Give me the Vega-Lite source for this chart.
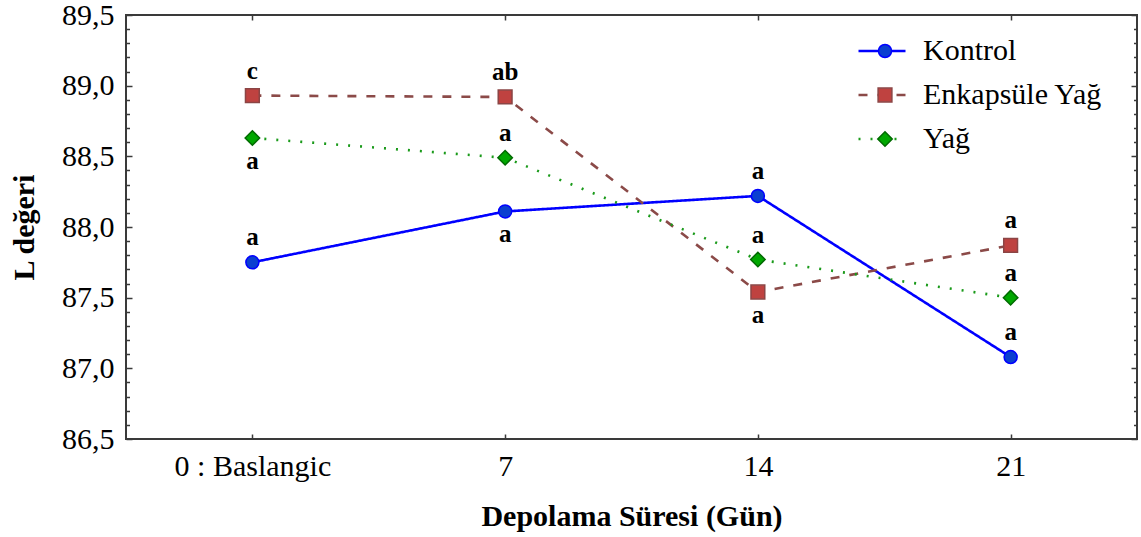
{
  "$schema": "https://vega.github.io/schema/vega-lite/v6.json",
  "width": 1011,
  "height": 424,
  "autosize": {"type": "none"},
  "padding": {"left": 126, "top": 15, "right": 4, "bottom": 98},
  "background": "white",
  "config": {
    "font": "Liberation Serif",
    "view": {"stroke": "#3a3a3a", "strokeWidth": 2},
    "axis": {
      "grid": false,
      "domain": false,
      "tickColor": "#3a3a3a",
      "tickWidth": 1.5,
      "labelFont": "Liberation Serif",
      "labelFontSize": 30,
      "labelColor": "#000000",
      "titleFont": "Liberation Serif",
      "titleFontSize": 30,
      "titleFontWeight": "bold",
      "titleColor": "#000000"
    }
  },
  "data": {
    "values": [
      {"gun": "0 : Baslangic", "grup": "Kontrol", "sira": 1, "L": 87.75, "harf": "a", "yer": "üst"},
      {"gun": "7", "grup": "Kontrol", "sira": 1, "L": 88.11, "harf": "a", "yer": "alt"},
      {"gun": "14", "grup": "Kontrol", "sira": 1, "L": 88.22, "harf": "a", "yer": "üst"},
      {"gun": "21", "grup": "Kontrol", "sira": 1, "L": 87.08, "harf": "a", "yer": "üst"},
      {"gun": "0 : Baslangic", "grup": "Enkapsüle Yağ", "sira": 2, "L": 88.93, "harf": "c", "yer": "üst"},
      {"gun": "7", "grup": "Enkapsüle Yağ", "sira": 2, "L": 88.92, "harf": "ab", "yer": "üst"},
      {"gun": "14", "grup": "Enkapsüle Yağ", "sira": 2, "L": 87.54, "harf": "a", "yer": "alt"},
      {"gun": "21", "grup": "Enkapsüle Yağ", "sira": 2, "L": 87.87, "harf": "a", "yer": "üst"},
      {"gun": "0 : Baslangic", "grup": "Yağ", "sira": 3, "L": 88.63, "harf": "a", "yer": "alt"},
      {"gun": "7", "grup": "Yağ", "sira": 3, "L": 88.49, "harf": "a", "yer": "üst"},
      {"gun": "14", "grup": "Yağ", "sira": 3, "L": 87.77, "harf": "a", "yer": "üst"},
      {"gun": "21", "grup": "Yağ", "sira": 3, "L": 87.50, "harf": "a", "yer": "üst"}
    ]
  },
  "layer": [
    {
      "encoding": {
        "x": {
          "field": "gun",
          "type": "ordinal",
          "sort": ["0 : Baslangic", "7", "14", "21"],
          "scale": {"type": "point", "padding": 0.5},
          "axis": {
            "orient": "bottom",
            "title": "Depolama Süresi (Gün)",
            "labelAngle": 0,
            "tickSize": -5,
            "labelPadding": 17,
            "titlePadding": 20
          }
        },
        "y": {
          "field": "L",
          "type": "quantitative",
          "scale": {"domain": [86.5, 89.5], "zero": false, "nice": false},
          "axis": {
            "orient": "left",
            "title": "L değeri",
            "values": [86.5, 86.6, 86.7, 86.8, 86.9, 87.0, 87.1, 87.2, 87.3, 87.4, 87.5, 87.6, 87.7, 87.8, 87.9, 88.0, 88.1, 88.2, 88.3, 88.4, 88.5, 88.6, 88.7, 88.8, 88.9, 89.0, 89.1, 89.2, 89.3, 89.4, 89.5],
            "labelExpr": "abs(datum.value * 2 - round(datum.value * 2)) < 0.01 ? replace(format(datum.value, '.1f'), '.', ',') : ''",
            "labelOverlap": false,
            "labelFlush": false,
            "tickSize": {"condition": {"test": "abs(datum.value * 2 - round(datum.value * 2)) < 0.01", "value": -6}, "value": -3.5},
            "labelPadding": 18,
            "titlePadding": 22
          }
        }
      },
      "layer": [
        {
          "mark": {"type": "line", "strokeWidth": 2.6},
          "encoding": {
            "color": {
              "field": "grup",
              "type": "nominal",
              "scale": {"domain": ["Kontrol", "Enkapsüle Yağ", "Yağ"], "range": ["#0000ff", "#8b4a48", "#1a9a1a"]},
              "legend": {
                "orient": "none",
                "legendX": 731,
                "legendY": 20,
                "title": null,
                "symbolType": "stroke",
                "symbolSize": 2209,
                "symbolStrokeWidth": 2.4,
                "labelFont": "Liberation Serif",
                "labelFontSize": 30,
                "labelColor": "#000000",
                "labelLimit": 400,
                "labelOffset": 16,
                "clipHeight": 32,
                "rowPadding": 12,
                "padding": 0
              }
            },
            "strokeDash": {
              "field": "grup",
              "type": "nominal",
              "scale": {"domain": ["Kontrol", "Enkapsüle Yağ", "Yağ"], "range": [[1, 0], [9, 10], [2, 10]]}
            }
          }
        },
        {
          "mark": {"type": "point", "filled": true, "opacity": 1, "strokeWidth": 1.5},
          "encoding": {
            "shape": {
              "field": "grup",
              "type": "nominal",
              "sort": {"field": "sira", "op": "min"},
              "scale": {"range": ["circle", "square", "diamond"]},
              "legend": {
                "orient": "none",
                "legendX": 744,
                "legendY": 20,
                "title": null,
                "labelFont": "Liberation Serif",
                "labelFontSize": 30,
                "labelExpr": "''",
                "labelOffset": 16,
                "clipHeight": 32,
                "rowPadding": 12,
                "padding": 0
              }
            },
            "fill": {
              "field": "grup",
              "type": "nominal",
              "sort": {"field": "sira", "op": "min"},
              "scale": {"range": ["#0b3fd0", "#bf4240", "#00a800"]}
            },
            "stroke": {
              "field": "grup",
              "type": "nominal",
              "sort": {"field": "sira", "op": "min"},
              "scale": {"range": ["#0000ff", "#8b4545", "#006a00"]}
            },
            "size": {
              "field": "grup",
              "type": "nominal",
              "sort": {"field": "sira", "op": "min"},
              "scale": {"range": [170, 210, 210]}
            }
          }
        },
        {
          "transform": [{"filter": "datum.yer === 'üst'"}],
          "mark": {"type": "text", "dy": -17, "baseline": "alphabetic", "fontWeight": "bold", "fontSize": 25, "font": "Liberation Serif", "color": "#000000"},
          "encoding": {"text": {"field": "harf"}}
        },
        {
          "transform": [{"filter": "datum.yer === 'alt'"}],
          "mark": {"type": "text", "dy": 31, "baseline": "alphabetic", "fontWeight": "bold", "fontSize": 25, "font": "Liberation Serif", "color": "#000000"},
          "encoding": {"text": {"field": "harf"}}
        }
      ]
    },
    {
      "mark": {"type": "point", "opacity": 0},
      "encoding": {
        "x": {
          "field": "gun",
          "type": "ordinal",
          "sort": ["0 : Baslangic", "7", "14", "21"],
          "axis": {"orient": "top", "title": null, "labels": false, "tickSize": -5}
        },
        "y": {
          "field": "L",
          "type": "quantitative",
          "axis": {
            "orient": "right",
            "title": null,
            "labels": false,
            "values": [86.5, 86.6, 86.7, 86.8, 86.9, 87.0, 87.1, 87.2, 87.3, 87.4, 87.5, 87.6, 87.7, 87.8, 87.9, 88.0, 88.1, 88.2, 88.3, 88.4, 88.5, 88.6, 88.7, 88.8, 88.9, 89.0, 89.1, 89.2, 89.3, 89.4, 89.5],
            "tickSize": {"condition": {"test": "abs(datum.value * 2 - round(datum.value * 2)) < 0.01", "value": -6}, "value": -3.5}
          }
        }
      }
    }
  ],
  "resolve": {"axis": {"x": "independent", "y": "independent"}}
}
